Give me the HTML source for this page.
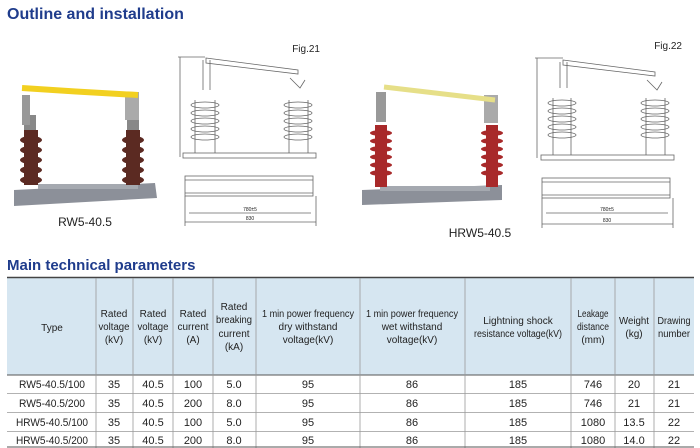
<!DOCTYPE html>
<html><head><meta charset="utf-8"><style>
html,body{margin:0;padding:0;background:#fff;width:700px;height:448px;overflow:hidden}
svg{display:block}
text{font-family:"Liberation Sans Narrow","Liberation Sans",sans-serif;fill:#222}
.h{font-size:10px;text-anchor:middle}
.d{font-size:11px;text-anchor:middle}
.t{font-family:"Liberation Sans",sans-serif;font-weight:bold;fill:#1f3c8c}
.dw{stroke:#666;stroke-width:0.8;fill:none}
</style></head><body>
<svg width="700" height="448" viewBox="0 0 700 448" xmlns="http://www.w3.org/2000/svg">
<text x="7" y="19" class="t" font-size="16">Outline and installation</text>

<!-- photo 1 -->
<polygon points="14,190 155,183 157,198 14,206" fill="#8c9099"/>
<rect x="38" y="184" width="100" height="5" fill="#a5a9b0"/>
<rect x="24" y="115" width="12" height="20" fill="#888"/>
<rect x="127" y="115" width="12" height="20" fill="#888"/>
<g fill="#5b2a22">
<rect x="24" y="130" width="14" height="55"/>
<rect x="126" y="130" width="14" height="55"/>
<ellipse cx="31" cy="140" rx="11" ry="4"/><ellipse cx="31" cy="150" rx="11" ry="4"/><ellipse cx="31" cy="160" rx="11" ry="4"/><ellipse cx="31" cy="170" rx="11" ry="4"/><ellipse cx="31" cy="180" rx="11" ry="4"/>
<ellipse cx="133" cy="140" rx="11" ry="4"/><ellipse cx="133" cy="150" rx="11" ry="4"/><ellipse cx="133" cy="160" rx="11" ry="4"/><ellipse cx="133" cy="170" rx="11" ry="4"/><ellipse cx="133" cy="180" rx="11" ry="4"/>
</g>
<rect x="22" y="95" width="8" height="30" fill="#999"/>
<rect x="125" y="92" width="14" height="28" fill="#aaa"/>
<path d="M22,88 Q80,92 138,95" stroke="#f2d020" stroke-width="6" fill="none"/>
<text x="85" y="226" font-size="12" text-anchor="middle" font-family="Liberation Sans">RW5-40.5</text>

<!-- drawing 1 -->
<text x="320" y="52" font-size="10" text-anchor="end" font-family="Liberation Sans">Fig.21</text>
<g class="dw">
<line x1="180" y1="57" x2="180" y2="157"/><line x1="178" y1="57" x2="205" y2="57"/>
<rect x="183" y="153" width="133" height="5"/>
<path d="M195,153 V100 M215,153 V100 M289,153 V100 M308,153 V100"/>
<ellipse cx="205" cy="105" rx="14" ry="3"/><ellipse cx="205" cy="113" rx="14" ry="3"/><ellipse cx="205" cy="121" rx="14" ry="3"/><ellipse cx="205" cy="129" rx="14" ry="3"/><ellipse cx="205" cy="137" rx="14" ry="3"/>
<ellipse cx="298" cy="105" rx="14" ry="3"/><ellipse cx="298" cy="113" rx="14" ry="3"/><ellipse cx="298" cy="121" rx="14" ry="3"/><ellipse cx="298" cy="129" rx="14" ry="3"/><ellipse cx="298" cy="137" rx="14" ry="3"/>
<path d="M206,58 L298,70 L298,74 L206,63 Z"/>
<path d="M203,60 V90 M210,60 V90 M290,78 L300,88 L305,80"/>
<rect x="185" y="176" width="128" height="20"/>
<line x1="185" y1="180" x2="313" y2="180"/><line x1="185" y1="193" x2="313" y2="193"/>
<line x1="189" y1="213" x2="311" y2="213"/><line x1="185" y1="222" x2="316" y2="222"/>
<line x1="185" y1="196" x2="185" y2="226"/><line x1="316" y1="196" x2="316" y2="226"/>
</g>
<text x="250" y="211" font-size="5" text-anchor="middle">780±5</text>
<text x="250" y="220" font-size="5" text-anchor="middle">830</text>

<!-- photo 2 -->
<polygon points="362,190 502,185 502,200 362,205" fill="#8c9099"/>
<rect x="380" y="186" width="110" height="5" fill="#a5a9b0"/>
<g fill="#a8292a">
<rect x="375" y="125" width="12" height="62"/>
<rect x="486" y="125" width="12" height="62"/>
<ellipse cx="381" cy="133" rx="11" ry="3"/><ellipse cx="381" cy="141" rx="11" ry="3"/><ellipse cx="381" cy="149" rx="11" ry="3"/><ellipse cx="381" cy="157" rx="11" ry="3"/><ellipse cx="381" cy="165" rx="11" ry="3"/><ellipse cx="381" cy="173" rx="11" ry="3"/>
<ellipse cx="492" cy="133" rx="11" ry="3"/><ellipse cx="492" cy="141" rx="11" ry="3"/><ellipse cx="492" cy="149" rx="11" ry="3"/><ellipse cx="492" cy="157" rx="11" ry="3"/><ellipse cx="492" cy="165" rx="11" ry="3"/><ellipse cx="492" cy="173" rx="11" ry="3"/>
</g>
<rect x="376" y="92" width="10" height="30" fill="#999"/>
<rect x="484" y="95" width="14" height="28" fill="#aaa"/>
<path d="M384,87 L495,100" stroke="#e6df88" stroke-width="5" fill="none"/>
<text x="480" y="237" font-size="12" text-anchor="middle" font-family="Liberation Sans">HRW5-40.5</text>

<!-- drawing 2 -->
<text x="682" y="49" font-size="10" text-anchor="end" font-family="Liberation Sans">Fig.22</text>
<g class="dw">
<line x1="537" y1="58" x2="537" y2="158"/><line x1="535" y1="58" x2="563" y2="58"/>
<rect x="541" y="155" width="133" height="5"/>
<path d="M553,155 V98 M571,155 V98 M646,155 V98 M665,155 V98"/>
<ellipse cx="562" cy="103" rx="14" ry="3"/><ellipse cx="562" cy="111" rx="14" ry="3"/><ellipse cx="562" cy="119" rx="14" ry="3"/><ellipse cx="562" cy="127" rx="14" ry="3"/><ellipse cx="562" cy="135" rx="14" ry="3"/>
<ellipse cx="655" cy="103" rx="14" ry="3"/><ellipse cx="655" cy="111" rx="14" ry="3"/><ellipse cx="655" cy="119" rx="14" ry="3"/><ellipse cx="655" cy="127" rx="14" ry="3"/><ellipse cx="655" cy="135" rx="14" ry="3"/>
<path d="M563,60 L655,72 L655,76 L563,65 Z"/>
<path d="M560,62 V88 M567,62 V88 M647,80 L657,90 L662,82"/>
<rect x="542" y="178" width="128" height="20"/>
<line x1="542" y1="182" x2="670" y2="182"/><line x1="542" y1="195" x2="670" y2="195"/>
<line x1="546" y1="213" x2="668" y2="213"/><line x1="542" y1="224" x2="673" y2="224"/>
<line x1="542" y1="198" x2="542" y2="228"/><line x1="673" y1="198" x2="673" y2="228"/>
</g>
<text x="607" y="211" font-size="5" text-anchor="middle">780±5</text>
<text x="607" y="222" font-size="5" text-anchor="middle">830</text>

<!-- table -->
<text x="7" y="270" class="t" font-size="15">Main technical parameters</text>
<rect x="7" y="278" width="687" height="97" fill="#d6e6f1"/>
<line x1="7" y1="277.5" x2="694" y2="277.5" stroke="#444" stroke-width="1.5"/>
<line x1="7" y1="375" x2="694" y2="375" stroke="#555"/>
<g stroke="#999" stroke-width="0.8">
<line x1="7" y1="393.5" x2="694" y2="393.5"/><line x1="7" y1="412.5" x2="694" y2="412.5"/><line x1="7" y1="431.5" x2="694" y2="431.5"/>
<line x1="96" y1="278" x2="96" y2="448"/><line x1="133" y1="278" x2="133" y2="448"/><line x1="173" y1="278" x2="173" y2="448"/><line x1="213" y1="278" x2="213" y2="448"/><line x1="256" y1="278" x2="256" y2="448"/><line x1="360" y1="278" x2="360" y2="448"/><line x1="465" y1="278" x2="465" y2="448"/><line x1="571" y1="278" x2="571" y2="448"/><line x1="615" y1="278" x2="615" y2="448"/><line x1="654" y1="278" x2="654" y2="448"/>
</g>
<line x1="7" y1="447" x2="694" y2="447" stroke="#555"/>
<g class="h">
<text x="52" y="331">Type</text>
<text x="114" y="317">Rated</text><text x="114" y="330" textLength="31" lengthAdjust="spacingAndGlyphs">voltage</text><text x="114" y="343">(kV)</text>
<text x="153" y="317">Rated</text><text x="153" y="330" textLength="31" lengthAdjust="spacingAndGlyphs">voltage</text><text x="153" y="343">(kV)</text>
<text x="193" y="317">Rated</text><text x="193" y="330" textLength="31" lengthAdjust="spacingAndGlyphs">current</text><text x="193" y="343">(A)</text>
<text x="234" y="310">Rated</text><text x="234" y="323" textLength="36" lengthAdjust="spacingAndGlyphs">breaking</text><text x="234" y="337">current</text><text x="234" y="350">(kA)</text>
<text x="308" y="317" textLength="92" lengthAdjust="spacingAndGlyphs">1 min power frequency</text><text x="308" y="330">dry withstand</text><text x="308" y="343">voltage(kV)</text>
<text x="412" y="317" textLength="92" lengthAdjust="spacingAndGlyphs">1 min power frequency</text><text x="412" y="330">wet withstand</text><text x="412" y="343">voltage(kV)</text>
<text x="518" y="324">Lightning shock</text><text x="518" y="337" textLength="88" lengthAdjust="spacingAndGlyphs">resistance voltage(kV)</text>
<text x="593" y="317" textLength="31" lengthAdjust="spacingAndGlyphs">Leakage</text><text x="593" y="330" textLength="32" lengthAdjust="spacingAndGlyphs">distance</text><text x="593" y="343">(mm)</text>
<text x="634" y="324" textLength="30" lengthAdjust="spacingAndGlyphs">Weight</text><text x="634" y="337">(kg)</text>
<text x="674" y="324" textLength="33" lengthAdjust="spacingAndGlyphs">Drawing</text><text x="674" y="337" textLength="32" lengthAdjust="spacingAndGlyphs">number</text>
</g>
<g class="d">
<text x="52" y="388" textLength="66" lengthAdjust="spacingAndGlyphs">RW5-40.5/100</text><text x="114" y="388">35</text><text x="153" y="388">40.5</text><text x="193" y="388">100</text><text x="234" y="388">5.0</text><text x="308" y="388">95</text><text x="412" y="388">86</text><text x="518" y="388">185</text><text x="593" y="388">746</text><text x="634" y="388">20</text><text x="674" y="388">21</text>
<text x="52" y="407" textLength="66" lengthAdjust="spacingAndGlyphs">RW5-40.5/200</text><text x="114" y="407">35</text><text x="153" y="407">40.5</text><text x="193" y="407">200</text><text x="234" y="407">8.0</text><text x="308" y="407">95</text><text x="412" y="407">86</text><text x="518" y="407">185</text><text x="593" y="407">746</text><text x="634" y="407">21</text><text x="674" y="407">21</text>
<text x="52" y="426" textLength="72" lengthAdjust="spacingAndGlyphs">HRW5-40.5/100</text><text x="114" y="426">35</text><text x="153" y="426">40.5</text><text x="193" y="426">100</text><text x="234" y="426">5.0</text><text x="308" y="426">95</text><text x="412" y="426">86</text><text x="518" y="426">185</text><text x="593" y="426">1080</text><text x="634" y="426">13.5</text><text x="674" y="426">22</text>
<text x="52" y="444" textLength="72" lengthAdjust="spacingAndGlyphs">HRW5-40.5/200</text><text x="114" y="444">35</text><text x="153" y="444">40.5</text><text x="193" y="444">200</text><text x="234" y="444">8.0</text><text x="308" y="444">95</text><text x="412" y="444">86</text><text x="518" y="444">185</text><text x="593" y="444">1080</text><text x="634" y="444">14.0</text><text x="674" y="444">22</text>
</g>
</svg>
</body></html>
